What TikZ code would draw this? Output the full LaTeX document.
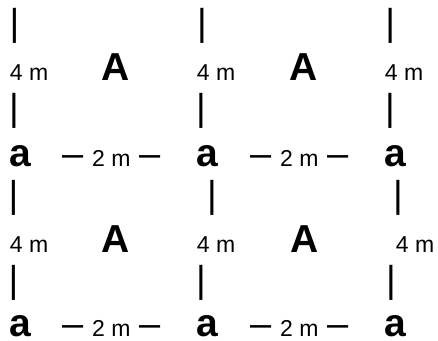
\documentclass[tikz,border=0pt]{standalone}
\usepackage{fontspec}
\setmainfont{Liberation Sans}
\tikzset{
  barsym/.style={anchor=base, inner sep=0pt, font=\fontsize{37.5}{40}\selectfont},
  vdim/.style={anchor=base west, inner sep=0pt, font=\fontsize{23}{26}\selectfont},
  hdim/.style={anchor=base west, inner sep=0pt, font=\fontsize{23}{26}\selectfont},
  bigl/.style={anchor=base, inner sep=0pt, font=\fontsize{39}{42}\selectfont\bfseries},
}
\newcommand\mybigdash{{\fontsize{38}{40}\selectfont –}}
\newcommand\mydimtext{\mybigdash\hspace{8.8pt}2 m\hspace{8.8pt}\mybigdash}
\begin{document}
\begin{tikzpicture}[x=1pt,y=-1pt]
\fill[white] (0,0) rectangle (438,340);
\useasboundingbox (0,0) rectangle (438,340);
% row 1 bars
\node[barsym] (b11) at (14.5,35.3) {|};
\node[barsym] (b12) at (202,35.3) {|};
\node[barsym] (b13) at (390.3,35.3) {|};
% row 2
\node[vdim] (v11) at (9.7,80) {4 m};
\node[bigl] (A11) at (116,80) {A};
\node[vdim] (v12) at (196.7,80) {4 m};
\node[bigl] (A12) at (304,80) {A};
\node[vdim] (v13) at (384.7,80) {4 m};
% row 3 bars
\node[barsym] (b21) at (14,120.3) {|};
\node[barsym] (b22) at (201,120.3) {|};
\node[barsym] (b23) at (390,120.3) {|};
% row 4
\node[bigl] (a11) at (20.5,166) {a};
\node[hdim] (h11) at (62,166) {\mydimtext};
\node[bigl] (a12) at (207.5,166) {a};
\node[hdim] (h12) at (250,166) {\mydimtext};
\node[bigl] (a13) at (395.5,166) {a};
% row 5 bars
\node[barsym] (b31) at (13.5,207.3) {|};
\node[barsym] (b32) at (212,207.3) {|};
\node[barsym] (b33) at (398,207.3) {|};
% row 6
\node[vdim] (v21) at (9.7,252) {4 m};
\node[bigl] (A21) at (115.5,252) {A};
\node[vdim] (v22) at (196.7,252) {4 m};
\node[bigl] (A22) at (304.5,252) {A};
\node[vdim] (v23) at (395.7,252) {4 m};
% row 7 bars
\node[barsym] (b41) at (13.5,292.3) {|};
\node[barsym] (b42) at (201,292.3) {|};
\node[barsym] (b43) at (391,292.3) {|};
% row 8
\node[bigl] (a21) at (20.5,336) {a};
\node[hdim] (h21) at (62,336) {\mydimtext};
\node[bigl] (a22) at (207.5,336) {a};
\node[hdim] (h22) at (250,336) {\mydimtext};
\node[bigl] (a23) at (395,336) {a};
\end{tikzpicture}
\end{document}
